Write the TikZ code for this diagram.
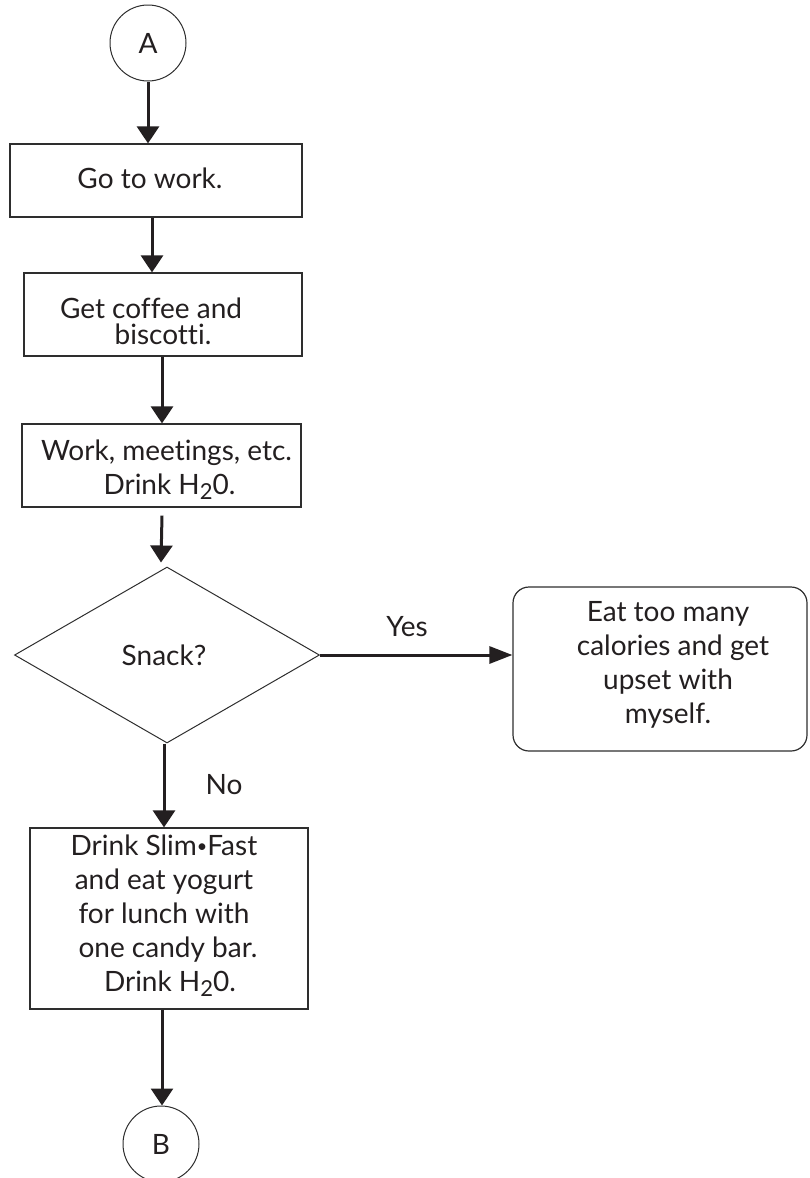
\documentclass[tikz,border=0pt]{standalone}
\usepackage{fontspec}
\setmainfont{Lato}[Ligatures={NoCommon}]
\usetikzlibrary{shapes.geometric,arrows.meta,calc}
\definecolor{ink}{HTML}{231F20}
\definecolor{edge}{HTML}{2E2E2E}
% lowered, slightly reduced subscript two
\newcommand{\lowtwo}{\raisebox{-5pt}{\fontsize{22}{22}\selectfont 2}}
\newcommand{\dotsep}{\raisebox{3pt}{\fontsize{18}{18}\selectfont•}}
\begin{document}
\begin{tikzpicture}[x=1pt,y=-1pt,
  every node/.style={text=ink, font=\fontsize{28}{34}\selectfont},
  stepbox/.style={draw=edge, line width=1.2pt, rectangle, inner sep=0pt},
  roundbox/.style={stepbox, rounded corners=16pt},
  connector/.style={draw=edge, line width=1pt, circle, inner sep=0pt, minimum size=76pt},
  decision/.style={draw=edge, line width=1pt, diamond, inner sep=0pt},
  txt/.style={align=center, inner sep=0pt},
  flow/.style={draw=ink, line width=3pt, -{Triangle[length=17pt,width=22pt]}},
  flowh/.style={draw=ink, line width=3pt, -{Triangle[length=23pt,width=17pt]}}
]
\useasboundingbox (0,0) rectangle (809,1178);
\clip (0,0) rectangle (809,1178);

% connectors and process boxes
\node[connector] (A) at (148,43) {A};
\node[stepbox, minimum width=292pt, minimum height=73pt] (go) at (156,180.5) {};
\node[txt] (goT) at ($(go.center)+(-6,-2)$) {Go to work.};
\node[stepbox, minimum width=278pt, minimum height=83pt] (get) at (163,314.5) {};
\node[txt] (getT) at ($(get.center)+(0,7)$) {Get coffee and\hspace*{24pt}\\[-8pt]biscotti.};
\node[stepbox, minimum width=279pt, minimum height=83pt] (work) at (161.5,465.5) {};
\node[txt] (workT) at ($(work.center)+(5,4)$) {Work, meetings, etc.\\\hspace*{6pt}Drink H\lowtwo0.};
\node[decision, minimum width=305pt, minimum height=176pt] (snack) at (167,655) {};
\node[txt] (snackT) at ($(snack.center)+(-3,0)$) {Snack?};
\node[roundbox, minimum width=294pt, minimum height=164pt] (eat) at (660,669) {};
\node[txt] (eatT) at ($(eat.center)+(8,-4)$) {Eat too many\\\hspace*{10pt}calories and get\\upset with\\myself.};
\node[stepbox, minimum width=278pt, minimum height=181pt] (drink) at (169,918.5) {};
\node[txt] (drinkT) at ($(drink.center)+(-5,-3)$) {Drink Slim\dotsep Fast\\and eat yogurt\\for lunch with\\\hspace*{8pt}one candy bar.\\\hspace*{12pt}Drink H\lowtwo0.};
\node[connector] (B) at (161,1144) {B};

% branch labels
\node (yes) at (407,627) {Yes};
\node (no) at (224,785) {No};

% arrow start points, offset from the box centres
\coordinate (goOut) at ($(go.south)+(-4,0)$);
\coordinate (getOut) at ($(get.south)+(-1,0)$);
\coordinate (workOut) at ($(work.south)+(0.5,8)$);
\coordinate (snackIn) at ($(snack.north)+(-6,-4)$);
\coordinate (snackOut) at ($(snack.south)+(-3,0)$);
\coordinate (drinkOut) at ($(drink.south)+(-7,0)$);

% flow arrows
\draw[flow] (A.south) -- (A.south |- go.north);
\draw[flow] (goOut) -- (goOut |- get.north);
\draw[flow] (getOut) -- (getOut |- work.north);
\draw[flow] (workOut) -- (snackIn);
\draw[flowh] (snack.east) -- (snack.east -| eat.west);
\draw[flow] (snackOut) -- (snackOut |- drink.north);
\draw[flow] (drinkOut) -- (drinkOut |- B.north);
\end{tikzpicture}
\end{document}
